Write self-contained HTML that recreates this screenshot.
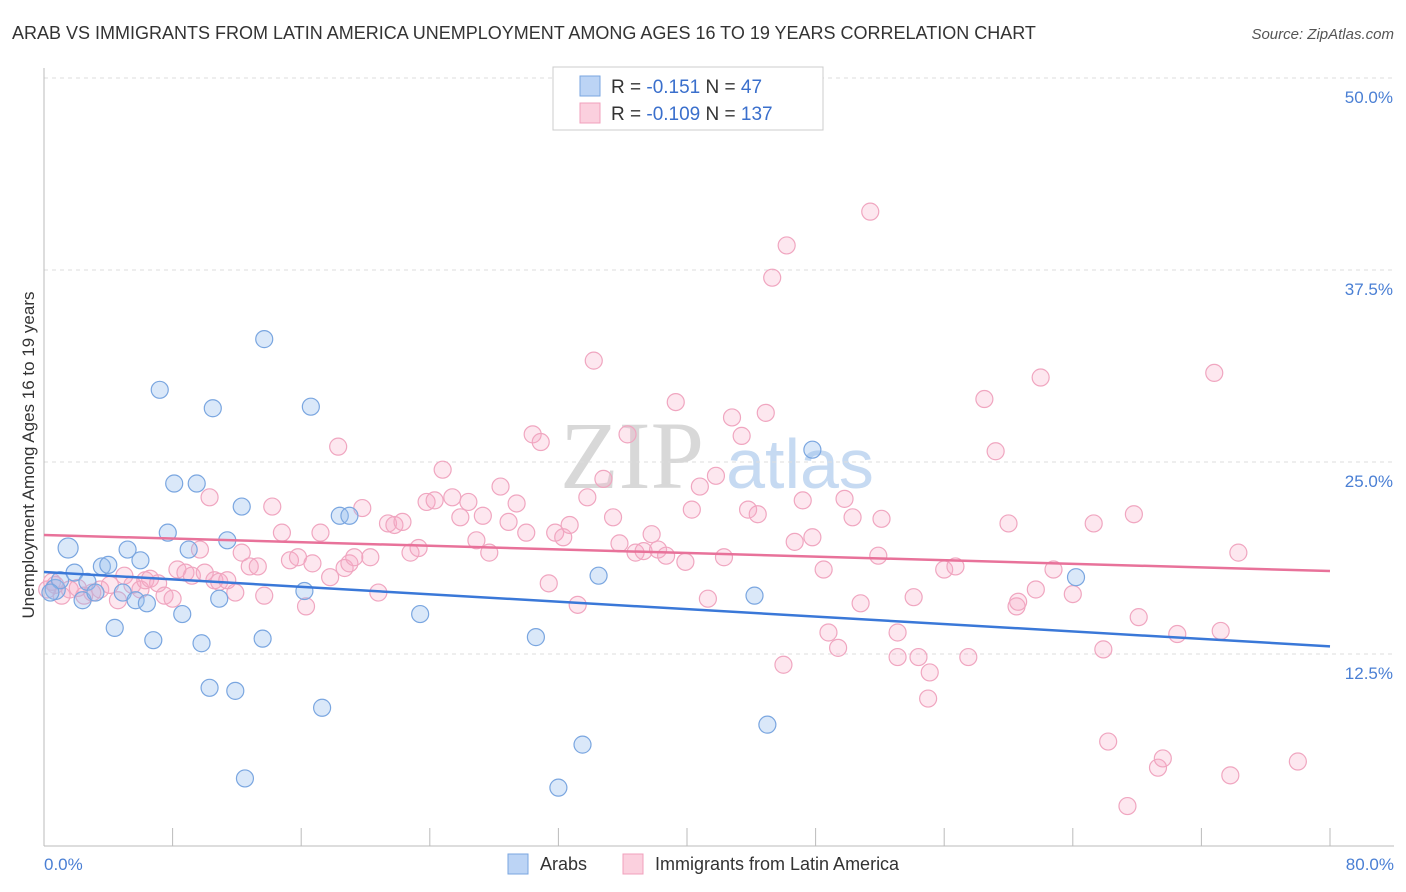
<!DOCTYPE html>
<html><head><meta charset="utf-8">
<style>
body{margin:0;background:#fff;font-family:"Liberation Sans",sans-serif;}
#wrap{position:relative;width:1406px;height:892px;overflow:hidden;}
</style></head>
<body>
<div id="wrap">
<svg id="chart" width="1406" height="892">
<text x="12" y="39" font-size="18" fill="#333">ARAB VS IMMIGRANTS FROM LATIN AMERICA UNEMPLOYMENT AMONG AGES 16 TO 19 YEARS CORRELATION CHART</text>
<text x="1394" y="39" font-size="15" fill="#555" font-style="italic" text-anchor="end">Source: ZipAtlas.com</text>
<text x="632" y="488" font-size="96" fill="#d8d8d8" font-family="Liberation Serif,serif" text-anchor="middle">ZIP</text>
<text x="800" y="488" font-size="70" fill="#c6daf2" text-anchor="middle">atlas</text>
<g id="grid"></g>
<g id="marks"></g>
<text transform="translate(34,455) rotate(-90)" font-size="17" fill="#333" text-anchor="middle">Unemployment Among Ages 16 to 19 years</text>
<text x="44" y="870" font-size="17" fill="#4a7fd4">0.0%</text>
<text x="1394" y="870" font-size="17" fill="#4a7fd4" text-anchor="end">80.0%</text>
<g>
<rect x="508" y="854" width="20" height="20" fill="#bcd4f5" stroke="#7aa6e0"/>
<text x="540" y="870" font-size="18" fill="#333">Arabs</text>
<rect x="623" y="854" width="20" height="20" fill="#fbd0de" stroke="#f0a0bc"/>
<text x="655" y="870" font-size="18" fill="#333">Immigrants from Latin America</text>
</g>
<g>
<rect x="553" y="67" width="270" height="63" fill="#fff" stroke="#ccc"/>
<rect x="580" y="76" width="20" height="20" fill="#bcd4f5" stroke="#7aa6e0"/>
<text x="611" y="93" font-size="19" fill="#333">R = <tspan fill="#3a6fcc"> -0.151</tspan>   N = <tspan fill="#3a6fcc"> 47</tspan></text>
<rect x="580" y="103" width="20" height="20" fill="#fbd0de" stroke="#f0a0bc"/>
<text x="611" y="120" font-size="19" fill="#333">R = <tspan fill="#3a6fcc">-0.109</tspan>   N = <tspan fill="#3a6fcc">137</tspan></text>
</g>
</svg>
</div>
<script>
const yTicks=[12.5,25,37.5,50];
const yTickLabels=["12.5%","25.0%","37.5%","50.0%"];
const xTicks=[0,8,16,24,32,40,48,56,64,72,80];
const arabX=[0.7,1.0,1.5,1.9,2.4,2.7,3.2,3.6,4.0,4.4,4.9,5.2,5.7,6.0,6.4,6.8,7.2,7.7,8.1,8.6,9.0,9.5,9.8,10.3,10.5,10.9,11.4,11.9,12.3,12.5,13.6,13.7,16.2,16.6,17.3,18.4,19.0,23.4,30.6,32.0,33.5,34.5,44.2,45.0,47.8,64.2,0.4];
const arabY=[16.7,17.3,19.4,17.8,16.0,17.2,16.5,18.2,18.3,14.2,16.5,19.3,16.0,18.6,15.8,13.4,29.7,20.4,23.6,15.1,19.3,23.6,13.2,10.3,28.5,16.1,19.9,10.1,22.1,4.4,13.5,33.0,16.6,28.6,9.0,21.5,21.5,15.1,13.6,3.8,6.6,17.6,16.3,7.9,25.8,17.5,16.5];
const latinX=[0.7,1.1,1.6,2.1,2.5,3.0,3.5,4.1,4.6,5.0,5.5,6.0,6.3,6.6,7.1,7.5,8.0,8.3,8.8,9.2,9.7,10.0,10.3,10.6,10.9,11.4,11.9,12.3,12.8,13.3,13.7,14.2,14.8,15.3,15.8,16.3,16.7,17.2,17.8,18.3,18.7,19.0,19.3,19.8,20.3,20.8,21.4,21.8,22.3,22.8,23.3,23.8,24.3,24.8,25.4,25.9,26.4,26.9,27.3,27.7,28.4,28.9,29.4,30.0,30.4,30.9,31.4,31.8,32.3,32.7,33.2,33.8,34.2,34.8,35.4,35.8,36.3,36.8,37.3,37.8,38.2,38.7,39.3,39.9,40.3,40.8,41.3,41.8,42.3,42.8,43.4,43.8,44.4,44.9,45.3,46.0,46.2,46.7,47.2,47.8,48.5,48.8,49.4,49.8,50.3,50.8,51.4,51.9,52.1,53.1,53.1,54.1,54.4,55.1,55.0,56.0,56.7,57.5,58.5,59.2,60.0,60.5,60.6,61.7,62.0,62.8,64.0,65.3,65.9,66.2,67.4,67.8,68.1,69.3,69.6,70.5,72.8,73.2,73.8,74.3,78.0,0.2,0.5];
const latinY=[17.0,16.3,16.7,16.8,16.3,16.5,16.7,17.0,16.0,17.6,17.0,16.7,17.3,17.4,17.1,16.3,16.1,18.0,17.8,17.6,19.3,17.8,22.7,17.3,17.2,17.3,16.5,19.1,18.2,18.2,16.3,22.1,20.4,18.6,18.8,15.6,18.4,20.4,17.5,26.0,18.1,18.4,18.8,22.0,18.8,16.5,21.0,20.9,21.1,19.1,19.4,22.4,22.5,24.5,22.7,21.4,22.4,19.9,21.5,19.1,23.4,21.1,22.3,20.4,26.8,26.3,17.1,20.4,20.1,20.9,15.7,22.7,31.6,23.9,21.4,19.7,26.8,19.1,19.2,20.3,19.3,18.9,28.9,18.5,21.9,23.4,16.1,24.1,18.8,27.9,26.7,21.9,21.6,28.2,37.0,11.8,39.1,19.8,22.5,20.1,18.0,13.9,12.9,22.6,21.4,15.8,41.3,18.9,21.3,13.9,12.3,16.2,12.3,11.3,9.6,18.0,18.2,12.3,29.1,25.7,21.0,15.6,15.9,16.7,30.5,18.0,16.4,21.0,12.8,6.8,2.6,21.6,14.9,5.1,5.7,13.8,30.8,14.0,4.6,19.1,5.5,16.7,17.2];
const arabTrend=[17.84,13.0];
const latinTrend=[20.25,17.9];
const NS="http://www.w3.org/2000/svg";
const X0=44,X1=1330,Y0=846,YTOP=78;
const sx=v=>X0+(v/80)*(X1-X0);
const sy=v=>Y0-(v/50)*(Y0-YTOP);
function mk(tag,attrs,parent){const e=document.createElementNS(NS,tag);for(const k in attrs)e.setAttribute(k,attrs[k]);parent.appendChild(e);return e;}
const grid=document.getElementById('grid'),marks=document.getElementById('marks');
yTicks.forEach((t,i)=>{
 const l=mk('line',{x1:X0,x2:1394,y1:sy(t),y2:sy(t),stroke:'#ddd','stroke-dasharray':'4,4'},grid);
 
 
 const tx=mk('text',{x:1393,y:sy(t)+25,'font-size':17,fill:'#4a7fd4','text-anchor':'end'},grid);
 tx.textContent=yTickLabels[i];
 
 
});
const ya=mk('line',{x1:X0,x2:X0,y1:68,y2:Y0,stroke:'#bbb'},grid);


const xa=mk('line',{x1:X0,x2:1394,y1:Y0,y2:Y0,stroke:'#bbb'},grid);


xTicks.forEach(t=>{
 const l=mk('line',{x1:sx(t),x2:sx(t),y1:828,y2:Y0,stroke:'#bbb'},grid);
 
 
});
function pts(xs,ys,fill,stroke,name){
 xs.forEach((x,i)=>{
  const r=(name==='arab-point'&&(i===0||i===2))?10:8.5;
  const c=mk('circle',{cx:sx(x),cy:sy(ys[i]),r:r,fill:fill,stroke:stroke,'stroke-width':1.2},marks);
  
  
 });
}
pts(latinX,latinY,'rgba(248,170,198,0.28)','#f0a6c0','latin-point');
pts(arabX,arabY,'rgba(150,188,238,0.35)','#7aa6e0','arab-point');
const t1=mk('line',{x1:sx(0),x2:sx(80),y1:sy(latinTrend[0]),y2:sy(latinTrend[1]),stroke:'#e8729a','stroke-width':2.5},marks);


const t2=mk('line',{x1:sx(0),x2:sx(80),y1:sy(arabTrend[0]),y2:sy(arabTrend[1]),stroke:'#3a78d8','stroke-width':2.5},marks);


</script>
</body></html>
